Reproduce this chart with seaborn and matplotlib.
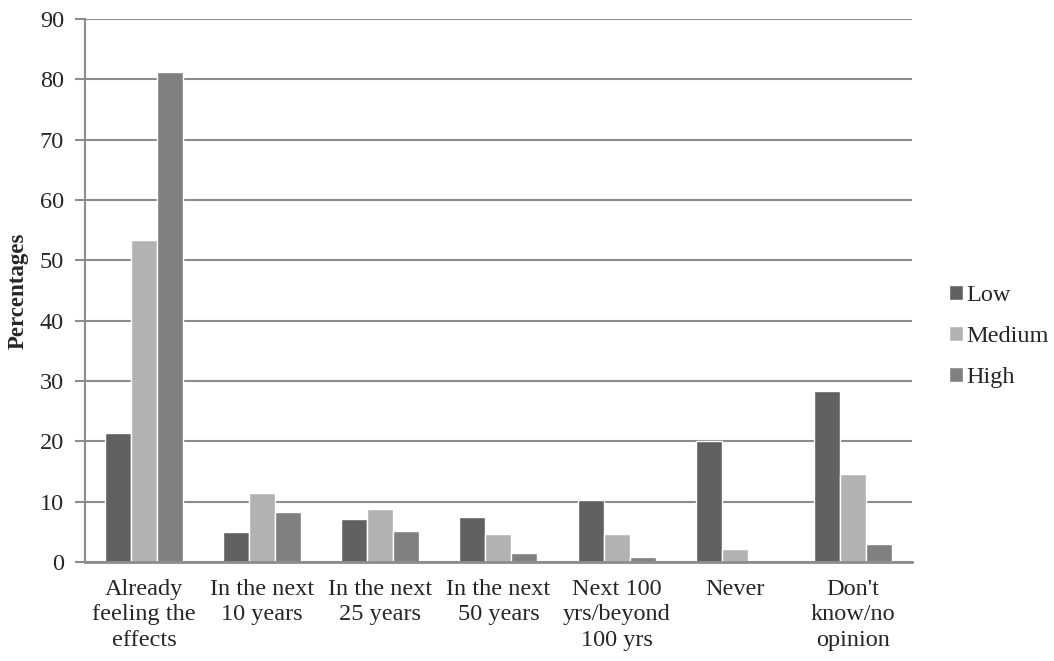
import pandas as pd
import matplotlib
matplotlib.use("Agg")
import matplotlib.pyplot as plt
import seaborn as sns

# ==========================================
# DATA
# ==========================================

categories = [
    "Already\nfeeling the\neffects",
    "In the next\n10 years",
    "In the next\n25 years",
    "In the next\n50 years",
    "Next 100\nyrs/beyond\n100 yrs",
    "Never",
    "Don't\nknow/no\nopinion",
]
levels = ["Low", "Medium", "High"]

low = [21.4, 4.9, 7.2, 7.5, 10.3, 20.0, 28.3]
medium = [53.4, 11.5, 8.8, 4.6, 4.7, 2.1, 14.5]
high = [81.2, 8.3, 5.1, 1.5, 0.8, 0.0, 2.9]

colors = ["#616161", "#b2b2b2", "#808080"]

df = pd.DataFrame({
    "Category": categories * 3,
    "Level": [levels[0]] * 7 + [levels[1]] * 7 + [levels[2]] * 7,
    "Value": low + medium + high,
})

# ==========================================
# PLOT
# ==========================================

sns.set_style("white")
plt.rcParams["font.family"] = ["Liberation Serif", "DejaVu Serif"]

fig = plt.figure(figsize=(10.54, 6.61), dpi=100)
ax = fig.add_axes([0.0806, 0.1498, 0.7847, 0.8215])

sns.barplot(
    data=df,
    x="Category",
    y="Value",
    hue="Level",
    palette=colors,
    width=0.66,
    gap=0,
    saturation=1,
    ax=ax,
)

ax.set_ylim(0, 90)
ax.set_yticks(range(0, 91, 10))
ax.yaxis.grid(True, color="#8c8c8c", linewidth=1.5)
ax.set_axisbelow(True)

for side in ["top", "right"]:
    ax.spines[side].set_visible(False)
ax.spines["left"].set_color("#8c8c8c")
ax.spines["left"].set_linewidth(1.5)
ax.spines["bottom"].set_color("#8c8c8c")
ax.spines["bottom"].set_linewidth(2)

ax.tick_params(axis="y", length=7, width=1.5, color="#8c8c8c",
               labelsize=17.5, pad=8, left=True)
ax.tick_params(axis="x", length=0, labelsize=17.5, pad=12)
for lbl in ax.get_xticklabels():
    lbl.set_linespacing(1.28)

ax.set_xlabel("")
ax.set_ylabel("Percentages", fontsize=16.5, fontweight="bold", labelpad=8)

ax.legend(
    loc="center left",
    bbox_to_anchor=(1.045, 0.415),
    borderaxespad=0,
    borderpad=0,
    frameon=False,
    fontsize=17.5,
    handlelength=0.55,
    handleheight=0.55,
    handletextpad=0.15,
    labelspacing=0.82,
)

plt.savefig("out.png", dpi=100)
